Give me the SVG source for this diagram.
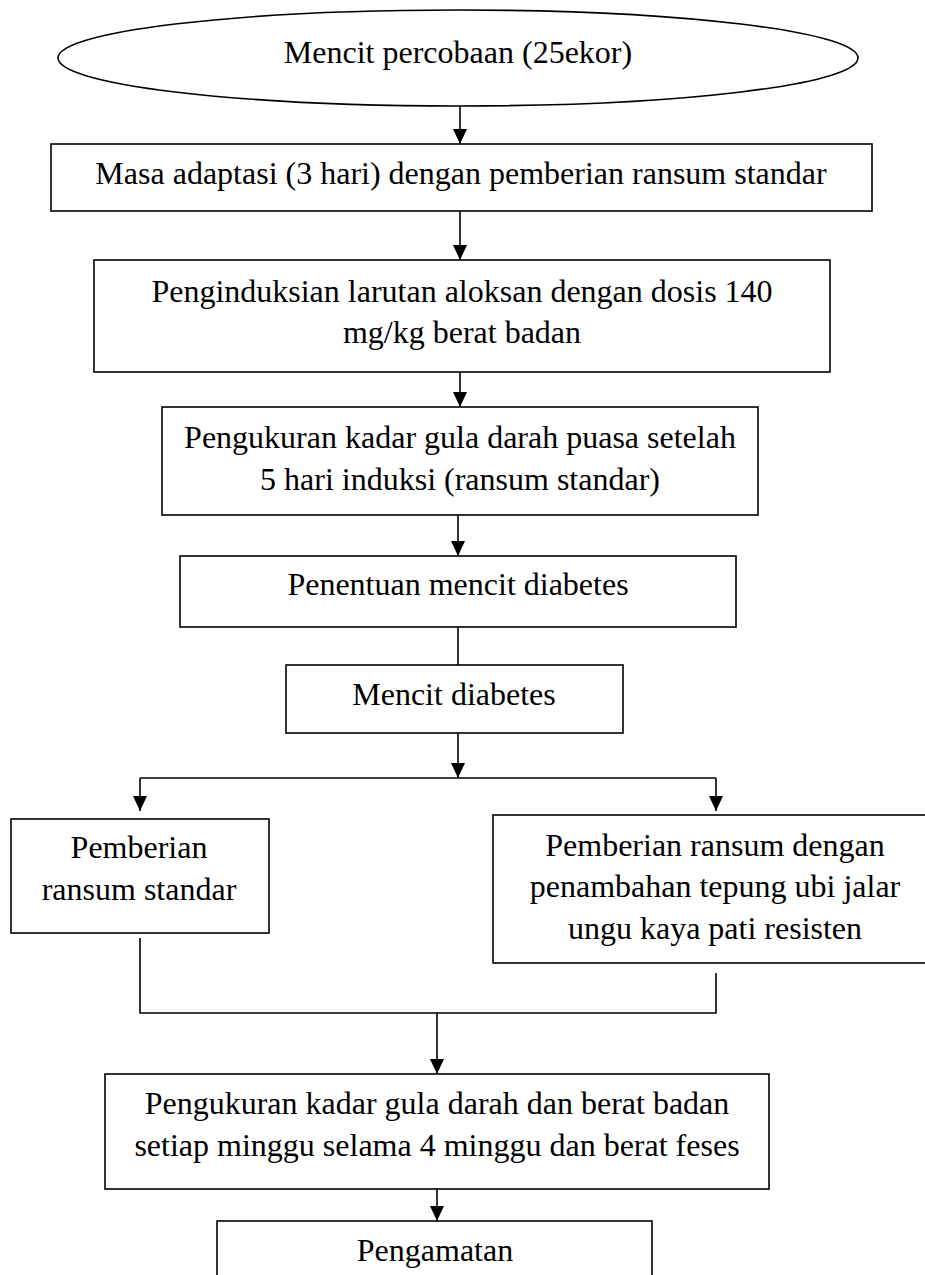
<svg xmlns="http://www.w3.org/2000/svg" width="925" height="1275" viewBox="0 0 925 1275">
<style>
.n{fill:#fff;stroke:#000;stroke-width:1.6}
.t{font-family:"Liberation Serif","Times New Roman",serif;font-size:32px;fill:#000;text-anchor:middle}
.c{fill:none;stroke:#000;stroke-width:1.6}
</style>
<defs>
<marker id="ah" markerUnits="userSpaceOnUse" markerWidth="16" markerHeight="14" refX="15" refY="7" orient="auto">
<path d="M0,0 L15,7 L0,14 z" fill="#000"/>
</marker>
</defs>
<rect width="925" height="1275" fill="#fff"/>
<g id="connectors">
<line class="c" x1="460" y1="106" x2="460" y2="144" marker-end="url(#ah)"/>
<line class="c" x1="460" y1="211" x2="460" y2="260" marker-end="url(#ah)"/>
<line class="c" x1="460" y1="372" x2="460" y2="407" marker-end="url(#ah)"/>
<line class="c" x1="458" y1="515" x2="458" y2="556" marker-end="url(#ah)"/>
<line class="c" x1="458" y1="627" x2="458" y2="665"/>
<line class="c" x1="458" y1="733" x2="458" y2="778" marker-end="url(#ah)"/>
<line class="c" x1="140" y1="778" x2="716" y2="778"/>
<line class="c" x1="140" y1="778" x2="140" y2="811" marker-end="url(#ah)"/>
<line class="c" x1="716" y1="778" x2="716" y2="811" marker-end="url(#ah)"/>
<polyline class="c" points="140,938 140,1013 716,1013 716,973"/>
<line class="c" x1="437" y1="1013" x2="437" y2="1074" marker-end="url(#ah)"/>
<line class="c" x1="437" y1="1187" x2="437" y2="1221" marker-end="url(#ah)"/>
</g>
<g id="n1">
<ellipse class="n" cx="458" cy="58" rx="400" ry="48"/>
<text class="t" x="458" y="63">Mencit percobaan (25ekor)</text>
</g>
<g id="n2">
<rect class="n" x="51" y="144" width="821" height="67"/>
<text class="t" x="461" y="184">Masa adaptasi (3 hari) dengan pemberian ransum standar</text>
</g>
<g id="n3">
<rect class="n" x="94" y="260" width="736" height="112"/>
<text class="t" x="462" y="302">Penginduksian larutan aloksan dengan dosis 140</text>
<text class="t" x="462" y="343">mg/kg berat badan</text>
</g>
<g id="n4">
<rect class="n" x="162" y="407" width="596" height="108"/>
<text class="t" x="460" y="448">Pengukuran kadar gula darah puasa setelah</text>
<text class="t" x="460" y="490">5 hari induksi (ransum standar)</text>
</g>
<g id="n5">
<rect class="n" x="180" y="556" width="556" height="71"/>
<text class="t" x="458" y="595">Penentuan mencit diabetes</text>
</g>
<g id="n6">
<rect class="n" x="286" y="665" width="337" height="68"/>
<text class="t" x="454" y="705">Mencit diabetes</text>
</g>
<g id="n7">
<rect class="n" x="11" y="819" width="258" height="114"/>
<text class="t" x="139" y="858">Pemberian</text>
<text class="t" x="139" y="900">ransum standar</text>
</g>
<g id="n8">
<rect class="n" x="493" y="815" width="450" height="148"/>
<text class="t" x="715" y="856">Pemberian ransum dengan</text>
<text class="t" x="715" y="897">penambahan tepung ubi jalar</text>
<text class="t" x="715" y="939">ungu kaya pati resisten</text>
</g>
<g id="n9">
<rect class="n" x="105" y="1074" width="664" height="115"/>
<text class="t" x="437" y="1114">Pengukuran kadar gula darah dan berat badan</text>
<text class="t" x="437" y="1156">setiap minggu selama 4 minggu dan berat feses</text>
</g>
<g id="n10">
<rect class="n" x="217" y="1221" width="435" height="80"/>
<text class="t" x="435" y="1261">Pengamatan</text>
</g>
</svg>
